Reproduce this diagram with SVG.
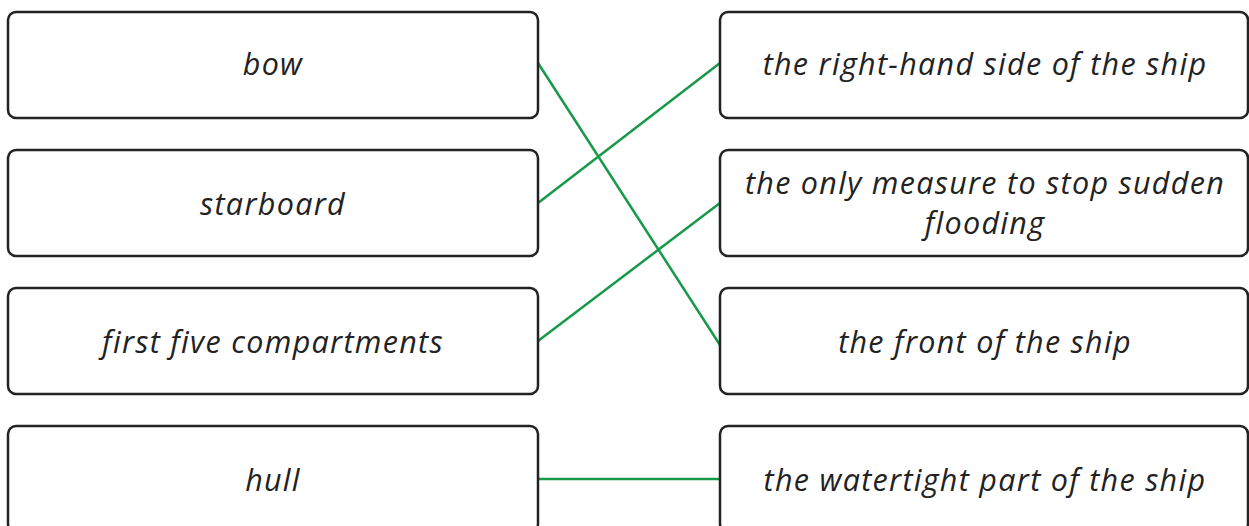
<svg xmlns="http://www.w3.org/2000/svg" width="1249" height="526" viewBox="0 0 1249 526">
  <style>
    .box { fill: #ffffff; stroke: #222222; stroke-width: 2.5; }
    .label { font-family: "Open Sans", "Noto Sans", sans-serif; font-style: italic; font-weight: 400; font-size: 30.5px; fill: #222222; text-anchor: middle; letter-spacing: 1.3px; }
    .link { stroke: #17994a; stroke-width: 2.5; fill: none; }
  </style>
  <rect width="1249" height="526" fill="#ffffff"/>

  <g id="connectors">
    <line class="link" x1="538" y1="63" x2="720" y2="345"/>
    <line class="link" x1="538" y1="203" x2="720" y2="63"/>
    <line class="link" x1="538" y1="341" x2="720" y2="203"/>
    <line class="link" x1="538" y1="479" x2="720" y2="479"/>
  </g>

  <g id="term-bow">
    <rect class="box" x="8" y="12" width="530" height="106" rx="8"/>
    <text class="label" x="273" y="75">bow</text>
  </g>
  <g id="term-starboard">
    <rect class="box" x="8" y="150" width="530" height="106" rx="8"/>
    <text class="label" x="273" y="215">starboard</text>
  </g>
  <g id="term-compartments">
    <rect class="box" x="8" y="288" width="530" height="106" rx="8"/>
    <text class="label" x="273" y="353">first five compartments</text>
  </g>
  <g id="term-hull">
    <rect class="box" x="8" y="426" width="530" height="106" rx="8"/>
    <text class="label" x="273" y="491">hull</text>
  </g>

  <g id="def-right-side">
    <rect class="box" x="720" y="12" width="528" height="106" rx="8"/>
    <text class="label" x="985" y="75">the right-hand side of the ship</text>
  </g>
  <g id="def-measure">
    <rect class="box" x="720" y="150" width="528" height="106" rx="8"/>
    <text class="label" x="985" y="194">the only measure to stop sudden</text>
    <text class="label" x="985" y="234">flooding</text>
  </g>
  <g id="def-front">
    <rect class="box" x="720" y="288" width="528" height="106" rx="8"/>
    <text class="label" x="985" y="353">the front of the ship</text>
  </g>
  <g id="def-watertight">
    <rect class="box" x="720" y="426" width="528" height="106" rx="8"/>
    <text class="label" x="985" y="491">the watertight part of the ship</text>
  </g>
</svg>
